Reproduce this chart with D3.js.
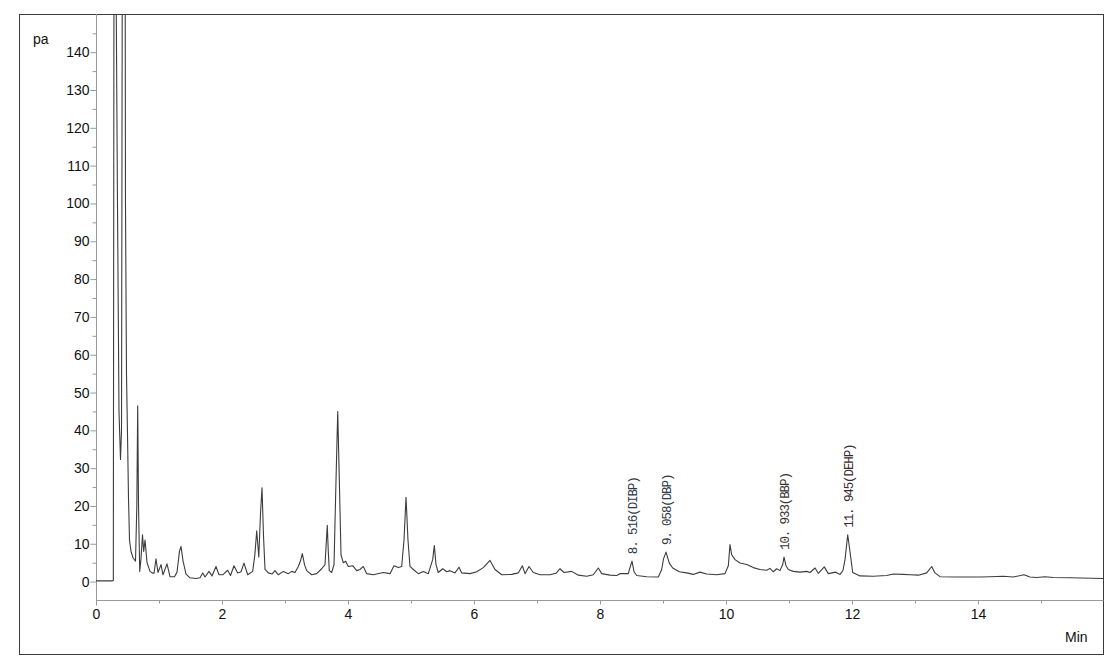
<!DOCTYPE html>
<html>
<head>
<meta charset="utf-8">
<script src="https://cdn.jsdelivr.net/npm/d3@7"></script>
<style>
  html, body { margin: 0; padding: 0; background: #fff; }
  svg { display: block; }
</style>
</head>
<body>
<svg id="chart" width="1116" height="666"></svg>
<script>
// ---- data (retention time in min, signal in pA) ----
const times = [
  0, 0.262, 0.275, 0.294, 0.302, 0.322, 0.341, 0.365, 0.389, 0.405, 0.421, 0.437, 0.452, 0.468, 0.484, 0.5,
  0.516, 0.532, 0.556, 0.587, 0.627, 0.648, 0.662, 0.675, 0.694, 0.714, 0.738, 0.757, 0.778, 0.81, 0.857,
  0.889, 0.921, 0.952, 0.984, 1.032, 1.063, 1.127, 1.175, 1.246, 1.286, 1.325, 1.349, 1.381, 1.429, 1.492,
  1.587, 1.651, 1.694, 1.73, 1.794, 1.841, 1.905, 1.952, 2.011, 2.09, 2.135, 2.19, 2.249, 2.302, 2.349,
  2.408, 2.487, 2.521, 2.551, 2.584, 2.611, 2.635, 2.659, 2.683, 2.735, 2.794, 2.841, 2.894, 2.973, 3.052,
  3.106, 3.159, 3.211, 3.246, 3.275, 3.31, 3.344, 3.424, 3.503, 3.582, 3.635, 3.654, 3.671, 3.687, 3.703,
  3.741, 3.778, 3.81, 3.837, 3.862, 3.889, 3.925, 3.963, 4.005, 4.075, 4.138, 4.19, 4.243, 4.297, 4.402,
  4.56, 4.667, 4.73, 4.798, 4.852, 4.889, 4.921, 4.952, 4.984, 5.037, 5.116, 5.195, 5.275, 5.344, 5.37,
  5.397, 5.433, 5.503, 5.567, 5.619, 5.698, 5.762, 5.805, 5.937, 6.043, 6.148, 6.254, 6.333, 6.44, 6.598,
  6.703, 6.767, 6.81, 6.873, 6.941, 7.048, 7.206, 7.302, 7.365, 7.429, 7.551, 7.656, 7.789, 7.894, 7.973,
  8.027, 8.159, 8.265, 8.317, 8.449, 8.476, 8.508, 8.54, 8.583, 8.741, 8.925, 8.979, 9.008, 9.048, 9.1,
  9.154, 9.259, 9.376, 9.481, 9.587, 9.694, 9.852, 9.984, 10.037, 10.063, 10.09, 10.143, 10.222, 10.329,
  10.433, 10.54, 10.646, 10.698, 10.751, 10.805, 10.857, 10.9, 10.921, 10.952, 10.989, 11.068, 11.175,
  11.281, 11.333, 11.413, 11.465, 11.56, 11.624, 11.741, 11.81, 11.857, 11.889, 11.932, 11.968, 12.011,
  12.127, 12.338, 12.551, 12.656, 12.814, 12.921, 13.052, 13.186, 13.265, 13.317, 13.397, 13.662, 14.032,
  14.19, 14.402, 14.56, 14.73, 14.825, 14.932, 15.063, 15.195, 15.46, 15.984
];
const signal = [
  0.2, 0.2, 0.3, 300, 420, 150, 100, 45, 32.3, 40, 200, 500, 300, 100, 55, 39,
  22, 11, 8, 6.3, 5.4, 20, 46.5, 20, 2.7, 6, 12.4, 8, 11, 5, 2.7,
  2.3, 2.2, 6, 2.4, 4.5, 1.8, 4.7, 1.3, 1.3, 2.5, 8, 9.3, 5.5, 2, 1,
  0.8, 1, 2.3, 1.2, 2.7, 1.5, 4, 1.8, 1.8, 3, 1.6, 4.2, 2.3, 2.6, 4.9,
  1.8, 2.7, 7, 13.4, 6.5, 18, 24.8, 12, 3.2, 2.3, 2, 2.9, 1.8, 2.7, 2.1,
  2.7, 2.4, 4, 5.5, 7.4, 4.5, 2.9, 1.8, 2.1, 3.4, 4.5, 10, 14.9, 8, 2.9,
  2.4, 4.5, 27, 45, 27, 7.1, 5, 5.4, 4, 4.2, 2.9, 3.2, 4, 2.1, 1.8,
  2.4, 2.1, 4.2, 3.7, 4, 11, 22.3, 11, 4, 3.2, 2.1, 2.7, 2.1, 5.8, 9.5,
  4.5, 2.4, 3.4, 2.6, 2.9, 2.3, 3.8, 2.3, 2.1, 2.6, 3.7, 5.6, 3.2, 1.8, 1.9,
  2.3, 4.2, 2.1, 4, 2.4, 1.8, 1.8, 2.2, 3.4, 2.4, 2.7, 1.7, 1.4, 1.8, 3.6,
  2.1, 1.7, 1.6, 2.1, 2.1, 3.7, 5.4, 2.6, 1.6, 1.3, 1.2, 3.2, 6, 7.8, 4.9,
  3.6, 2.6, 2.3, 1.9, 2.5, 2, 1.8, 2.1, 4.2, 9.8, 7.1, 5.8, 4.9, 4.5,
  3.7, 3.2, 3, 3.5, 2.6, 3.4, 2.9, 4.5, 6.5, 4.2, 3.2, 2.7, 2.5,
  2.7, 2.4, 3.6, 2.2, 3.9, 2.1, 2.5, 1.9, 3, 5.8, 12.4, 7.9, 2.4,
  1.5, 1.4, 1.6, 2, 1.9, 1.8, 1.7, 2.3, 4, 2.3, 1.3, 1.2, 1.2,
  1.3, 1.4, 1.2, 1.8, 1.2, 1.1, 1.3, 1.1, 1.0, 0.8
];
const peakTimes = [8.516, 9.058, 10.933, 11.945];
const peakLabels = ["8. 516(DIBP)", "9. 058(DBP)", "10. 933(BBP)", "11. 945(DEHP)"];
const peakColors = ["#2f3a4a", "#2f3a4a", "#3a3230", "#3a2a33"];
const yMajorTicks = [0, 10, 20, 30, 40, 50, 60, 70, 80, 90, 100, 110, 120, 130, 140];
const yMinorTicks = [5, 15, 25, 35, 45, 55, 65, 75, 85, 95, 105, 115, 125, 135, 145];
const xMajorTicks = [0, 2, 4, 6, 8, 10, 12, 14];
const xMinorTicks = [1, 3, 5, 7, 9, 11, 13, 15];
const yUnit = "pa";
const xUnit = "Min";

// ---- layout ----
const svg = d3.select("#chart");
const plot = { left: 96, right: 1103.5, top: 14, bottom: 600.5 };
const x = d3.scaleLinear().domain([0, 16]).range([plot.left, plot.left + 16 * 63]);
const y = d3.scaleLinear().domain([-5, 150.1]).range([plot.bottom, plot.top]);
const tickFont = "Liberation Sans, Arial, sans-serif";
const axisColor = "#9a9a9a";

// outer frame
svg.append("rect")
  .attr("x", 19.5).attr("y", 14.5).attr("width", 1084).attr("height", 640)
  .attr("fill", "none").attr("stroke", "#3a3a3a").attr("stroke-width", 1);

// clip
svg.append("clipPath").attr("id", "plotclip")
  .append("rect").attr("x", plot.left).attr("y", plot.top)
  .attr("width", plot.right - plot.left).attr("height", plot.bottom - plot.top);

// y axis
const yAxis = svg.append("g").attr("transform", `translate(${plot.left + 0.5},0)`)
  .call(d3.axisLeft(y).tickValues(yMajorTicks).tickSize(6).tickPadding(1).tickFormat(d3.format("d")));
yAxis.select(".domain").remove();
yAxis.selectAll(".tick line").attr("stroke", axisColor);
yAxis.selectAll(".tick text").attr("font-family", tickFont).attr("font-size", 14).attr("fill", "#111");
svg.append("g").attr("transform", `translate(${plot.left + 0.5},0)`)
  .call(d3.axisLeft(y).tickValues(yMinorTicks).tickSize(4).tickFormat(""))
  .call(g => g.select(".domain").remove())
  .selectAll(".tick line").attr("stroke", axisColor);
svg.append("line")
  .attr("x1", plot.left + 0.5).attr("x2", plot.left + 0.5)
  .attr("y1", plot.top).attr("y2", plot.bottom + 5)
  .attr("stroke", axisColor);

// x axis
const xAxis = svg.append("g").attr("transform", `translate(0,${plot.bottom})`)
  .call(d3.axisBottom(x).tickValues(xMajorTicks).tickSize(4).tickPadding(5).tickFormat(d3.format("d")));
xAxis.select(".domain").remove();
xAxis.selectAll(".tick line").attr("stroke", axisColor);
xAxis.selectAll(".tick text").attr("font-family", tickFont).attr("font-size", 14).attr("fill", "#111");
svg.append("g").attr("transform", `translate(0,${plot.bottom})`)
  .call(d3.axisBottom(x).tickValues(xMinorTicks).tickSize(3).tickFormat(""))
  .call(g => g.select(".domain").remove())
  .selectAll(".tick line").attr("stroke", axisColor);
svg.append("line")
  .attr("x1", plot.left).attr("x2", plot.right)
  .attr("y1", plot.bottom).attr("y2", plot.bottom)
  .attr("stroke", axisColor);

// unit labels
svg.append("text").attr("x", 33).attr("y", 44).text(yUnit)
  .attr("font-family", tickFont).attr("font-size", 14).attr("fill", "#111");
svg.append("text").attr("x", 1065).attr("y", 642).text(xUnit)
  .attr("font-family", tickFont).attr("font-size", 14).attr("fill", "#111");

// trace
const pts = times.map((t, i) => [t, signal[i]]);
svg.append("path")
  .attr("clip-path", "url(#plotclip)")
  .attr("d", d3.line().x(d => x(d[0])).y(d => y(d[1]))(pts))
  .attr("fill", "none").attr("stroke", "#3c3c3c").attr("stroke-width", 1.1)
  .attr("stroke-linejoin", "round");

// peak annotations
peakTimes.forEach((pt, i) => {
  const near = pts.filter(d => Math.abs(d[0] - pt) < 0.06);
  const top = d3.max(near, d => d[1]);
  const px = x(pt), py = y(top) - 7;
  svg.append("text")
    .attr("transform", `translate(${px},${py}) rotate(-90)`)
    .attr("dy", "0.35em")
    .attr("text-anchor", "start")
    .attr("font-family", "Liberation Mono, Courier New, monospace")
    .attr("font-size", 12.5)
    .attr("letter-spacing", "-1.1px")
    .attr("fill", peakColors[i])
    .text(peakLabels[i]);
});
</script>
</body>
</html>
